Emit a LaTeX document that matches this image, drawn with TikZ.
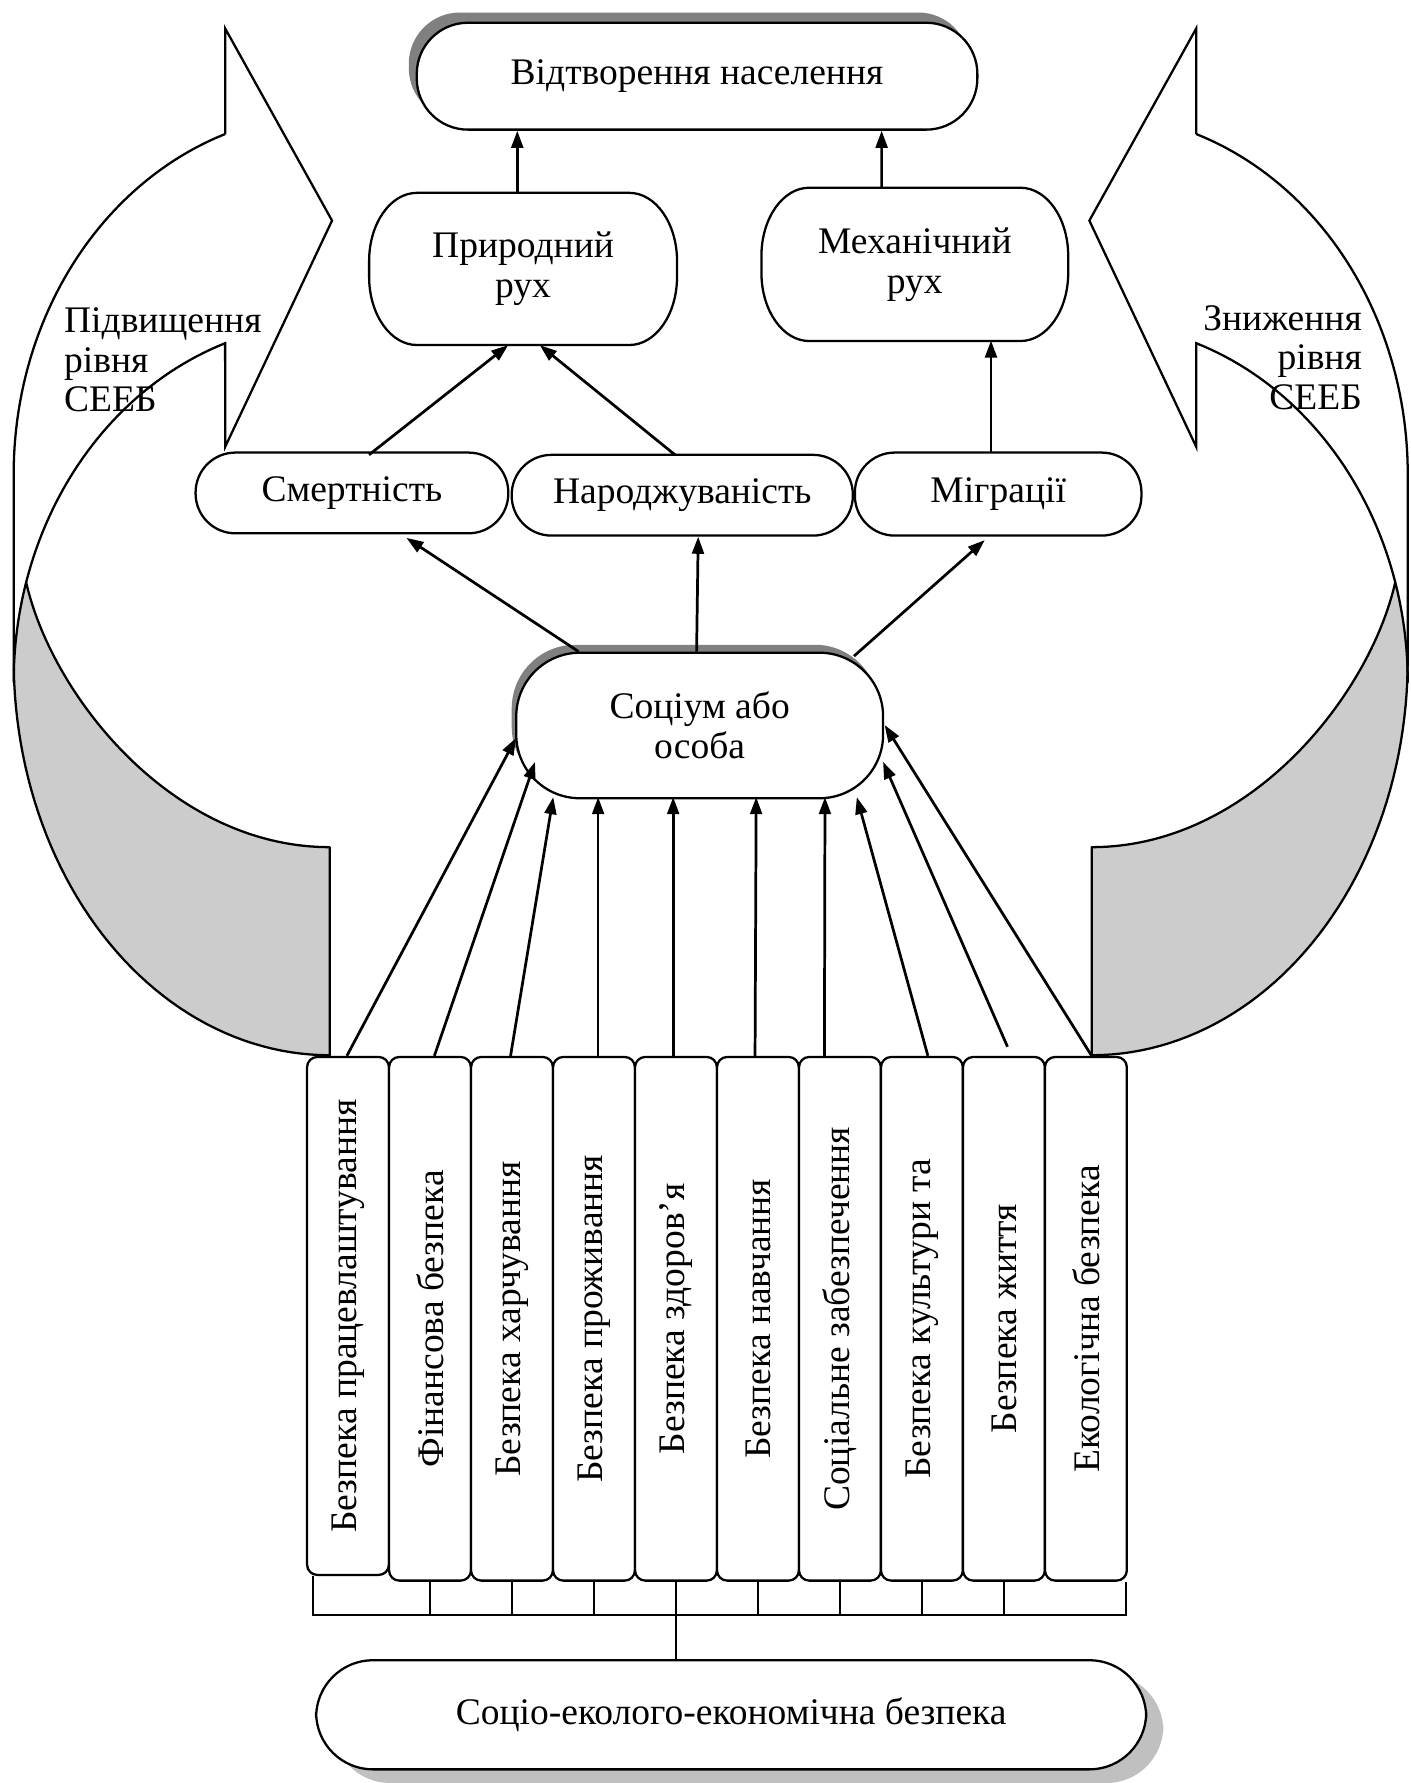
\documentclass[tikz,border=0pt]{standalone}
\usepackage{fontspec}
\setmainfont{Liberation Serif}
\usepackage{graphicx}
\usetikzlibrary{arrows.meta,shadows}
\definecolor{backgray}{HTML}{CCCCCC}
\definecolor{darkshadow}{HTML}{808080}
\definecolor{lightshadow}{HTML}{C0C0C0}
\newcommand\curvedband{%
  \filldraw[fill=backgray, line width=1pt, line join=round]
    plot[domain=196.2:180, samples=20, variable=\t] ({290+278*cos(\t)},{600+316*sin(\t)})
    -- plot[domain=176.7:90, samples=50, variable=\t] ({290+278*cos(\t)},{580+348*sin(\t)})
    -- (290,745) .. controls (150,745) and (45,610) .. (23,512) -- cycle;
  \draw[line width=1pt, line join=miter]
    plot[domain=196.2:250.67, samples=40, variable=\t] ({290+278*cos(\t)},{600+316*sin(\t)})
    -- (198,393) -- (292,194) -- (198,25) -- (198,118)
    -- plot[domain=250.67:180, samples=50, variable=\t] ({290+278*cos(\t)},{417+317*sin(\t)})
    -- (12,580) -- (12.46,600);
}
\newcommand\ellborder[3]{%
  \draw[line width=1pt] ([xshift=#2]#1.north west) -- ([xshift=-#2]#1.north east)
    arc[start angle=90,end angle=0,x radius=#2,y radius=#3]
    -- ([yshift=#3]#1.south east)
    arc[start angle=0,end angle=-90,x radius=#2,y radius=#3]
    -- ([xshift=#2]#1.south west)
    arc[start angle=270,end angle=180,x radius=#2,y radius=#3]
    -- ([yshift=-#3]#1.north west)
    arc[start angle=180,end angle=90,x radius=#2,y radius=#3] -- cycle;}
\begin{document}
\begin{tikzpicture}[x=0.5pt,y=-0.5pt,
  every node/.style={font=\fontsize{16.5}{17.5}\selectfont},
  rnd/.style={draw, line width=1pt, fill=white, align=center, inner sep=0pt, rounded corners=#1},
  plainnode/.style={align=center, inner sep=0pt},
  sbox/.style={draw, line width=1pt, fill=white, inner sep=0pt, rounded corners=4.5pt, minimum width=36pt},
  arr/.style={line width=1.2pt, -{Triangle[length=7.5pt,width=5.2pt]}},
  bline/.style={line width=1pt},
]
\useasboundingbox (0,0) rectangle (1240,1568);
\fill[white] (0,0) rectangle (1240,1568);

% curved block arrows
\curvedband
\begin{scope}[shift={(1250,0)}, xscale=-1]
  \curvedband
\end{scope}

% upper nodes
\node[rnd=22.5pt, minimum width=246.5pt, minimum height=47pt,
  drop shadow={shadow xshift=-3.5pt, shadow yshift=4.5pt, fill=darkshadow, opacity=1}]
  (T) at (613,67) {Відтворення населення};
\node[plainnode, minimum width=135pt, minimum height=66.5pt] (P) at (460,236.5) {Природний\\рух};
\ellborder{P}{21pt}{30pt}
\node[plainnode, minimum width=134.5pt, minimum height=67pt] (M) at (804.5,232.5) {Механічний\\рух};
\ellborder{M}{21pt}{30pt}
\node[rnd=17.5pt, minimum width=137.5pt, minimum height=35.5pt] (S) at (309.5,433.5) {Смертність};
\node[rnd=17.5pt, minimum width=150pt, minimum height=35.5pt] (N) at (600,435.5) {Народжуваність};
\node[rnd=17.5pt, minimum width=126pt, minimum height=36.5pt] (G) at (877.8,434.5) {Міграції};
\node[rnd=28pt, minimum width=161.3pt, minimum height=64pt,
  drop shadow={shadow xshift=-2pt, shadow yshift=3.5pt, fill=darkshadow, opacity=1}]
  (C) at (615.3,638) {Соціум або\\особа};

% side texts
\node[align=left, anchor=north west, inner sep=0pt] (txtL) at (56,270) {Підвищення\\рівня\\СЕЕБ};
\node[align=right, anchor=north east, inner sep=0pt] (txtR) at (1198,268) {Зниження\\рівня\\СЕЕБ};

% vertical boxes
\node[sbox, minimum height=227.75pt] (b1) at (306.05,1157.25) {\rotatebox{90}{Безпека працевлаштування}};
\foreach \i/\txt in {2/{Фінансова безпека}, 3/{Безпека харчування}, 4/{Безпека проживання},
  5/{Безпека здоров’я}, 6/{Безпека навчання}, 7/{Соціальне забезпечення},
  8/{Безпека культури та}, 9/{Безпека життя}, 10/{Екологічна безпека}}{
  \node[sbox, minimum height=230.25pt] (b\i) at ({270+72.1*(\i-1)+36.05},1159.75) {\rotatebox{90}{\txt}};
}

% bottom node
\node[rnd=25pt, minimum width=365pt, minimum height=48pt,
  drop shadow={shadow xshift=7.5pt, shadow yshift=-6pt, fill=lightshadow, opacity=1}]
  (B) at (643,1508) {Соціо-еколого-економічна безпека};

% arrows boxes -> society
\draw[arr] ([shift={(-1,0)}]b1.north) -- ([shift={(-161.5,11)}]C.center);
\draw[arr] ([shift={(3.85,0)}]b2.north) -- ([shift={(-144.8,32)}]C.center);
\draw[arr] ([shift={(-1.25,0)}]b3.north) -- ([shift={(-128.8,63)}]C.center);
\draw[arr] ([shift={(3.65,0)}]b4.north) -- ([shift={(-89.3,63)}]C.center);
\draw[arr] ([shift={(-2.45,0)}]b5.north) -- ([shift={(-23.3,63)}]C.center);
\draw[arr] ([shift={(-2.55,0)}]b6.north) -- ([shift={(49.7,63)}]C.center);
\draw[arr] ([shift={(-13.65,0)}]b7.north) -- ([shift={(110.2,63)}]C.center);
\draw[arr] ([shift={(5.25,0)}]b8.north) -- ([shift={(138.2,63)}]C.center);
\draw[arr] ([shift={(3.15,-8)}]b9.north) -- ([shift={(161.3,32)}]C.center);
\draw[arr] ([shift={(5.05,0)}]b10.north) -- ([shift={(162.7,-0.4)}]C.center);

% arrows society -> middle row
\draw[arr] ([shift={(-106.5,-65)}]C.center) -- ([shift={(47.9,39.5)}]S.center);
\draw[arr] ([shift={(-2.7,-65)}]C.center) -- ([shift={(14,36.5)}]N.center);
\draw[arr] ([shift={(135.7,-61)}]C.center) -- ([shift={(-11.8,40.5)}]G.center);

% middle row -> movement
\draw[arr] ([shift={(15,-33.5)}]S.center) -- ([shift={(-13,67)}]P.center);
\draw[arr] ([shift={(-6.4,-35.5)}]N.center) -- ([shift={(14.7,67)}]P.center);
\draw[arr] ([shift={(-6.3,-36.5)}]G.center) -- ([shift={(67,67)}]M.center);

% movement -> reproduction
\draw[arr] ([shift={(-5.1,0)}]P.north) -- ([shift={(-158.1,0)}]T.south);
\draw[arr] ([shift={(-29.2,0)}]M.north) -- ([shift={(162.3,0)}]T.south);

% bracket
\coordinate (barL) at (275,1420);
\coordinate (barR) at (990,1420);
\draw[bline] (barL) -- (barR);
\draw[bline] ([shift={(-31,0)}]b1.south) -- ++(0,35);
\foreach \i in {2,...,9}{
  \draw[bline] (b\i.south) -- ++(0,30);
}
\draw[bline] ([shift={(35,0)}]b10.south) -- ++(0,30);
\draw[bline] (b5.south |- barL) -- (b5.south |- B.north);
\end{tikzpicture}
\end{document}
